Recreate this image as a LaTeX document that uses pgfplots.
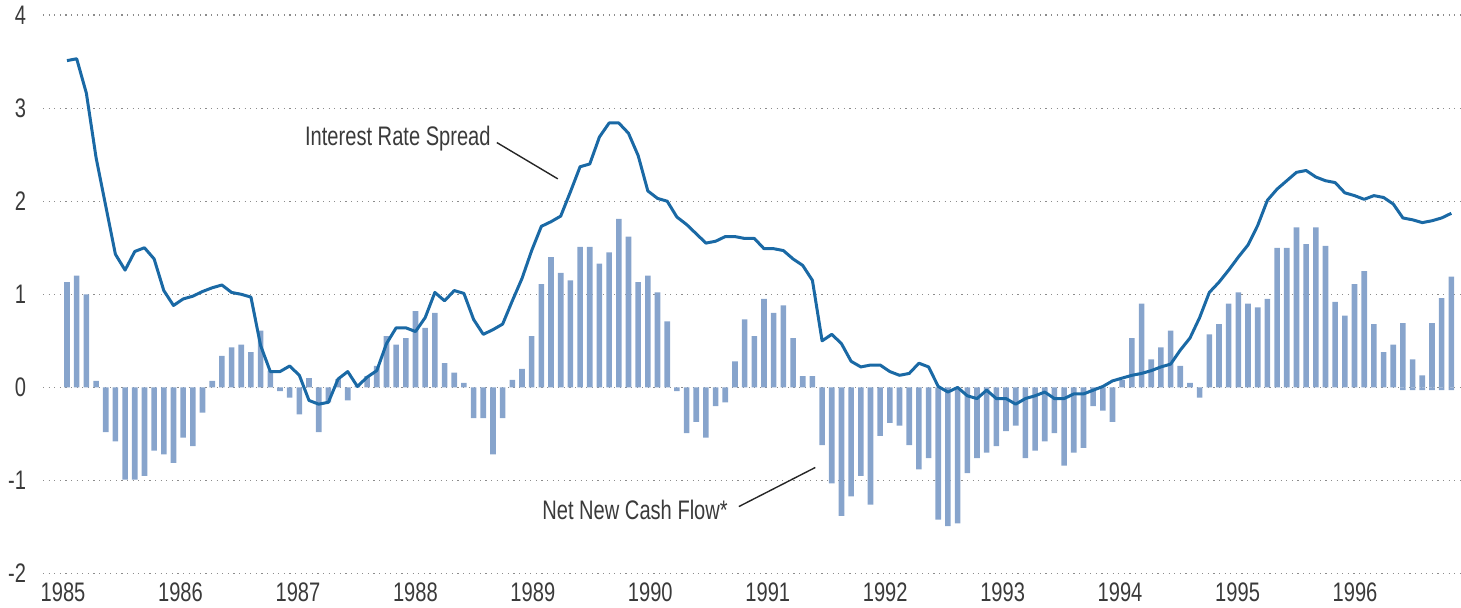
\documentclass[border=0pt]{standalone}
\usepackage{pgfplots}
\usepackage{pgfplotstable}
\pgfplotsset{compat=1.18}
\usepackage{fontspec}
\setmainfont[FakeStretch=0.75]{Liberation Sans}
\definecolor{barcol}{HTML}{87A4CC}
\definecolor{linecol}{HTML}{1A69A5}
\definecolor{txtcol}{HTML}{3A3A3A}
\definecolor{gridcol}{HTML}{8C8C8C}

\pgfplotstableread{
x y
0 1.13
1 1.20
2 1.00
3 0.07
4 -0.48
5 -0.58
6 -0.99
7 -0.99
8 -0.95
9 -0.68
10 -0.72
11 -0.81
12 -0.54
13 -0.63
14 -0.27
15 0.07
16 0.34
17 0.43
18 0.46
19 0.38
20 0.61
21 0.18
22 -0.04
23 -0.11
24 -0.29
25 0.10
26 -0.48
27 -0.16
28 0.09
29 -0.14
30 0.02
31 0.12
32 0.23
33 0.55
34 0.46
35 0.53
36 0.82
37 0.64
38 0.80
39 0.26
40 0.16
41 0.05
42 -0.33
43 -0.33
44 -0.72
45 -0.33
46 0.08
47 0.20
48 0.55
49 1.11
50 1.40
51 1.23
52 1.15
53 1.51
54 1.51
55 1.33
56 1.45
57 1.81
58 1.62
59 1.13
60 1.20
61 1.02
62 0.71
63 -0.04
64 -0.49
65 -0.37
66 -0.54
67 -0.20
68 -0.16
69 0.28
70 0.73
71 0.55
72 0.95
73 0.80
74 0.88
75 0.53
76 0.12
77 0.12
78 -0.62
79 -1.03
80 -1.38
81 -1.17
82 -0.95
83 -1.26
84 -0.52
85 -0.38
86 -0.41
87 -0.62
88 -0.88
89 -0.76
90 -1.42
91 -1.49
92 -1.46
93 -0.92
94 -0.76
95 -0.70
96 -0.63
97 -0.47
98 -0.41
99 -0.76
100 -0.68
101 -0.58
102 -0.49
103 -0.84
104 -0.70
105 -0.65
106 -0.20
107 -0.25
108 -0.37
109 0.08
110 0.53
111 0.90
112 0.30
113 0.43
114 0.61
115 0.23
116 0.05
117 -0.11
118 0.57
119 0.68
120 0.90
121 1.02
122 0.90
123 0.86
124 0.95
125 1.50
126 1.50
127 1.72
128 1.54
129 1.72
130 1.52
131 0.92
132 0.77
133 1.11
134 1.25
135 0.68
136 0.38
137 0.46
138 0.69
139 0.30
140 0.13
141 0.69
142 0.96
143 1.19
}\flowdata

\pgfplotstableread{
x y
138 -0.03
139 -0.03
140 -0.03
141 -0.03
142 -0.03
143 -0.03
}\flowneg

\pgfplotstableread{
x y
0 3.51
1 3.53
2 3.16
3 2.47
4 1.95
5 1.43
6 1.26
7 1.46
8 1.50
9 1.38
10 1.04
11 0.88
12 0.95
13 0.98
14 1.03
15 1.07
16 1.10
17 1.02
18 1.00
19 0.97
20 0.45
21 0.17
22 0.17
23 0.23
24 0.13
25 -0.14
26 -0.18
27 -0.16
28 0.09
29 0.17
30 0.01
31 0.11
32 0.18
33 0.47
34 0.64
35 0.64
36 0.60
37 0.75
38 1.02
39 0.93
40 1.04
41 1.01
42 0.73
43 0.57
44 0.62
45 0.68
46 0.93
47 1.17
48 1.47
49 1.73
50 1.78
51 1.84
52 2.10
53 2.37
54 2.40
55 2.69
56 2.84
57 2.84
58 2.73
59 2.49
60 2.11
61 2.03
62 2.00
63 1.83
64 1.75
65 1.65
66 1.55
67 1.57
68 1.62
69 1.62
70 1.60
71 1.60
72 1.49
73 1.49
74 1.47
75 1.38
76 1.31
77 1.15
78 0.50
79 0.57
80 0.47
81 0.28
82 0.22
83 0.24
84 0.24
85 0.17
86 0.13
87 0.15
88 0.26
89 0.22
90 0.01
91 -0.05
92 0.00
93 -0.09
94 -0.12
95 -0.03
96 -0.12
97 -0.12
98 -0.18
99 -0.12
100 -0.09
101 -0.05
102 -0.12
103 -0.12
104 -0.07
105 -0.07
106 -0.03
107 0.01
108 0.07
109 0.10
110 0.13
111 0.15
112 0.18
113 0.22
114 0.25
115 0.40
116 0.53
117 0.75
118 1.02
119 1.13
120 1.26
121 1.40
122 1.53
123 1.74
124 2.01
125 2.13
126 2.22
127 2.31
128 2.33
129 2.26
130 2.22
131 2.20
132 2.09
133 2.06
134 2.02
135 2.06
136 2.04
137 1.97
138 1.82
139 1.80
140 1.77
141 1.79
142 1.82
143 1.87
}\spreaddata

\begin{document}
\begin{tikzpicture}
\begin{axis}[
  name=ax,
  scale only axis,
  width=709pt, height=279.3pt,
  xmin=-2.48, xmax=144.0,
  ymin=-2, ymax=4,
  ytick={-2,-1,0,1,2,3,4},
  yticklabels={-2,-1,0,1,2,3,4},
  xtick={-0.41,11.72,23.86,35.99,48.12,60.25,72.39,84.52,96.65,108.78,120.92,133.05},
  xticklabels={1985,1986,1987,1988,1989,1990,1991,1992,1993,1994,1995,1996},
  axis line style={draw=none},
  major tick length=0pt,
  tick style={draw=none},
  ymajorgrids,
  grid style={gridcol, line width=0.6pt, dash pattern=on 0.6pt off 2.2pt},
  tick label style={font=\fontsize{13.4pt}{16pt}\selectfont, text=txtcol, inner sep=0pt},
  yticklabel style={anchor=east, xshift=-8.3pt},
  xticklabel style={anchor=north, yshift=-4.4pt},
  clip=false,
]
\addplot[ybar, bar width=2.8pt, bar shift=0pt, fill=barcol, draw=none] table[x=x,y=y] {\flowdata};
\addplot[ybar, bar width=2.8pt, bar shift=0pt, fill=barcol, draw=none] table[x=x,y=y] {\flowneg};
\addplot[linecol, line width=1.5pt, line join=round, mark=none] table[x=x,y=y] {\spreaddata};
\node[anchor=east, inner sep=0pt, text=txtcol, font=\fontsize{13.4pt}{16pt}\selectfont] at (axis cs:43.8,2.67) {Interest Rate Spread};
\draw[black!85, line width=0.7pt] (axis cs:44.4,2.63) -- (axis cs:50.7,2.24);
\node[anchor=east, inner sep=0pt, text=txtcol, font=\fontsize{13.4pt}{16pt}\selectfont] at (axis cs:68.3,-1.32) {Net New Cash Flow*};
\draw[black!85, line width=0.7pt] (axis cs:69.4,-1.28) -- (axis cs:77.3,-0.86);
\end{axis}
\path (ax.south west) ++(-21.5pt,-16.7pt) coordinate (bl);
\path (ax.north east) ++(0pt,7.5pt) coordinate (tr);
\pgfresetboundingbox
\path[use as bounding box] (bl) rectangle (tr);
\end{tikzpicture}
\end{document}
